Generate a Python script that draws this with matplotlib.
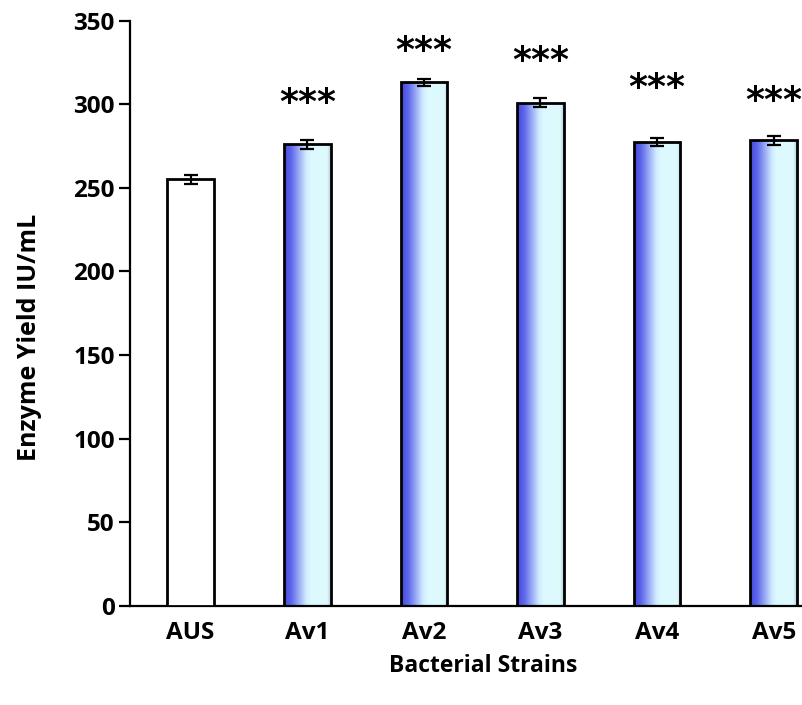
import numpy as np
import matplotlib
matplotlib.use('Agg')
import matplotlib.pyplot as plt
from matplotlib.colors import LinearSegmentedColormap

# Enzyme yield per strain (IU/mL), mean and error
strains = ['AUS', 'Av1', 'Av2', 'Av3', 'Av4', 'Av5']
yields = [255, 276, 313, 301, 277.5, 278.5]
errors = [2.8, 2.7, 2.3, 2.6, 2.2, 2.7]
# significance marks and the height they sit at
stars = ['', '***', '***', '***', '***', '***']
star_y = [0, 301, 332, 326, 310, 302]

plt.rcParams['font.family'] = ['Open Sans', 'DejaVu Sans']
plt.rcParams['font.weight'] = 'bold'

blue_grad = LinearSegmentedColormap.from_list('bluegrad', [
    (0.00, (0.28, 0.28, 0.86)),
    (0.15, (0.36, 0.40, 0.92)),
    (0.47, (0.82, 0.92, 1.00)),
    (0.57, (0.86, 0.98, 1.00)),
    (0.92, (0.87, 0.98, 0.99)),
    (1.00, (0.70, 0.80, 0.85)),
])


def main():
    fig = plt.figure(figsize=(8.03, 7.05), dpi=100)
    ax = fig.add_axes([130/803, 99/705, 702/803, 585.4/705])
    x = np.arange(len(strains))
    w = 0.4

    bars = ax.bar(x, yields, width=w, facecolor='none', edgecolor='black',
                  linewidth=2.0, zorder=3)
    ax.errorbar(x, yields, yerr=errors, fmt='none', ecolor='black',
                elinewidth=1.6, capsize=5, capthick=1.6, zorder=4)

    # gradient fill for the Av strains, AUS stays white
    grad = np.linspace(0, 1, 256).reshape(1, -1)
    for i, b in enumerate(bars):
        if i == 0:
            b.set_facecolor('white')
            continue
        x0 = b.get_x()
        im = ax.imshow(grad, cmap=blue_grad, aspect='auto', zorder=2,
                       extent=[x0, x0 + w, 0, yields[i]])
        im.set_clip_path(b)

    for i, s in enumerate(stars):
        if s:
            ax.text(x[i], star_y[i], s, ha='center', va='center',
                    fontsize=26, fontweight='heavy', family='DejaVu Sans')

    ax.set_xlim(-0.52, 5.5)
    ax.set_ylim(0, 350)
    ax.set_yticks(np.arange(0, 351, 50))
    ax.set_xticks(x)
    ax.set_xticklabels(strains, fontsize=17.5, fontweight='bold')
    ax.tick_params(axis='x', length=0, pad=11)
    ax.tick_params(axis='y', length=8, width=1.6, labelsize=17.5, pad=3)
    for t in ax.get_yticklabels():
        t.set_fontweight('bold')

    ax.spines['top'].set_visible(False)
    ax.spines['right'].set_visible(False)
    ax.spines['left'].set_linewidth(1.6)
    ax.spines['bottom'].set_linewidth(1.6)

    fig.text(483/803, 1 - 666/705, 'Bacterial Strains', ha='center',
             va='center', fontsize=16.5, fontweight='bold')
    fig.text(30/803, 1 - 337/705, 'Enzyme Yield IU/mL', ha='center',
             va='center', rotation=90, fontsize=18, fontweight='bold')

    fig.savefig('out.png', dpi=100)


if __name__ == '__main__':
    main()
